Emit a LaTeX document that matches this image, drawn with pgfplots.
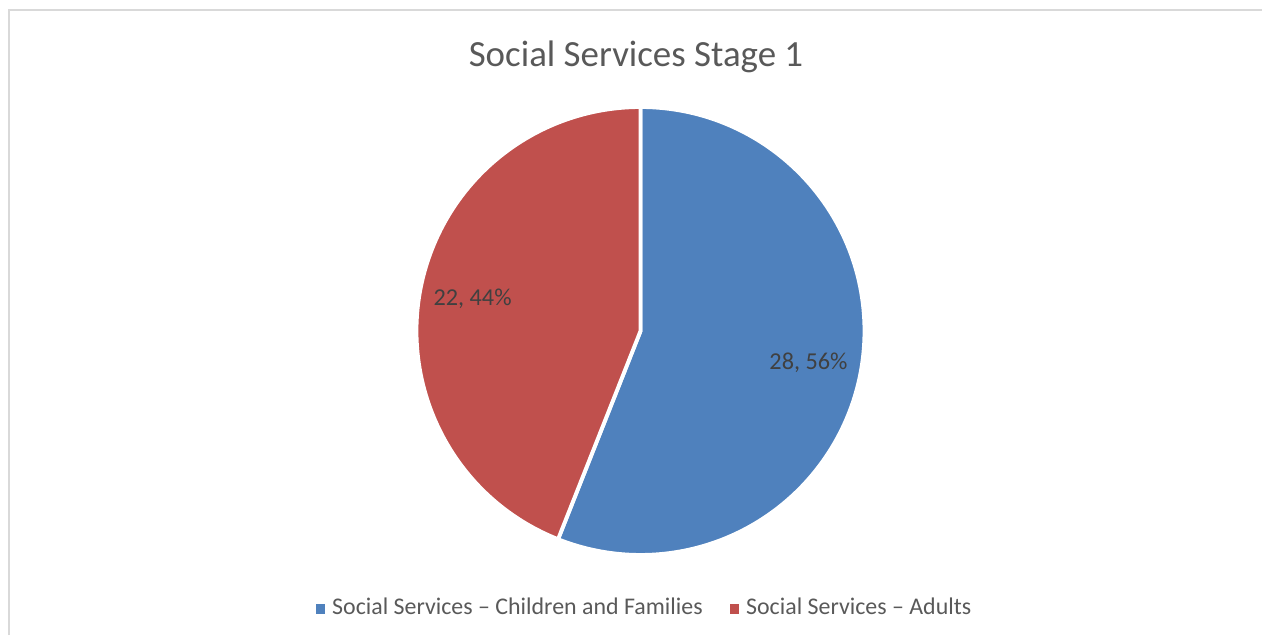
\documentclass[border=0pt]{standalone}
\usepackage{pgfplots}
\pgfplotsset{compat=1.18}
\usepackage{pgfplotstable}
\usepackage{fontspec}
\setmainfont{Carlito}

\definecolor{cfam}{HTML}{4F81BD}
\definecolor{cadu}{HTML}{C0504D}
\definecolor{ttl}{HTML}{595959}
\definecolor{lbl}{HTML}{404040}
\definecolor{frm}{HTML}{D9D9D9}

% count per group
\pgfplotstableread{
group value
Children 28
Adults 22
}\piedata

\begin{document}
\begin{tikzpicture}
\pgfplotstablegetelem{0}{value}\of\piedata \let\va\pgfplotsretval
\pgfplotstablegetelem{1}{value}\of\piedata \let\vb\pgfplotsretval
\pgfmathsetmacro\tot{\va+\vb}
\pgfmathsetmacro\aa{90-360*\va/\tot}
\pgfmathsetmacro\ab{\aa-360*\vb/\tot}
\pgfmathsetmacro\ma{(90+\aa)/2}
\pgfmathsetmacro\mb{(\aa+\ab)/2}
\pgfmathtruncatemacro\pa{round(100*\va/\tot)}
\pgfmathtruncatemacro\pb{round(100*\vb/\tot)}

\begin{axis}[
name=ax,
scale only axis,
width=12.62cm,
height=6.35cm,
xmin=0, xmax=1262,
ymin=0, ymax=635,
hide axis,
clip=false,
legend columns=2,
legend cell align=left,
legend style={at={(axis cs:647,26)}, anchor=center, draw=none, fill=none,
  font=\fontsize{6.8}{8}\selectfont, text=ttl,
  /tikz/every even column/.append style={column sep=0.2cm}}
]
\addlegendimage{legend image code/.code={\fill[cfam] (0cm,-0.04cm) rectangle (0.08cm,0.04cm);}}
\addlegendentry{Social Services – Children and Families}
\addlegendimage{legend image code/.code={\fill[cadu] (0cm,-0.04cm) rectangle (0.08cm,0.04cm);}}
\addlegendentry{Social Services – Adults}

% chart frame
\draw[frm, line width=0.55pt] (axis cs:9,0) -- (axis cs:9,625) -- (axis cs:1262,625);

\node[text=ttl, font=\fontsize{10.5}{12}\selectfont] at (axis cs:636,578) {Social Services Stage 1};

% slices
\path[fill=cfam, draw=white, line width=1.1pt, line join=round]
  (axis cs:640.5,304) -- ++(90:2.24cm) arc[start angle=90, end angle=\aa, radius=2.24cm] -- cycle;
\path[fill=cadu, draw=white, line width=1.1pt, line join=round]
  (axis cs:640.5,304) -- ++(\aa:2.24cm) arc[start angle=\aa, end angle=\ab, radius=2.24cm] -- cycle;

\node[text=lbl, font=\fontsize{6.9}{8}\selectfont] at ([shift={(\ma:1.71cm)}]axis cs:640.5,304) {\va, \pa\%};
\node[text=lbl, font=\fontsize{6.9}{8}\selectfont] at ([shift={(\mb:1.71cm)}]axis cs:640.5,304) {\vb, \pb\%};
\end{axis}
\pgfresetboundingbox
\path[use as bounding box] (ax.south west) rectangle (ax.north east);
\end{tikzpicture}
\end{document}
